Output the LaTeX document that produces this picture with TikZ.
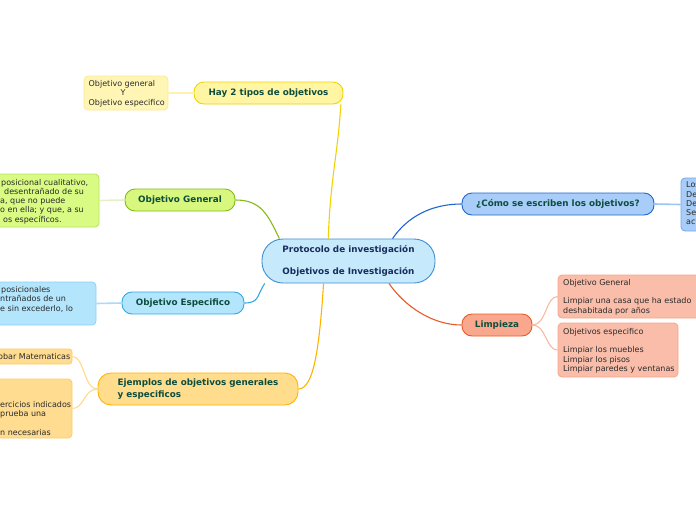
\documentclass[tikz,border=0pt]{standalone}
\usepackage{fontspec}
\setmainfont{DejaVu Sans}
\definecolor{cfill}{HTML}{C6EAFC}
\definecolor{cborder}{HTML}{3F8FD2}
\definecolor{ctxt}{HTML}{1A2B5E}
\definecolor{btxt}{HTML}{0E4D3E}
\definecolor{ltxt}{HTML}{2A2A2A}
\definecolor{yfill}{HTML}{FFF5A3}
\definecolor{yborder}{HTML}{F2D200}
\definecolor{ylfill}{HTML}{FFF6B5}
\definecolor{ylborder}{HTML}{FDEA90}
\definecolor{ysub}{HTML}{FFF2B0}
\definecolor{gfill}{HTML}{D7F77E}
\definecolor{gborder}{HTML}{86B91A}
\definecolor{glfill}{HTML}{D9FB83}
\definecolor{glborder}{HTML}{B8E060}
\definecolor{gsub}{HTML}{E4F0C8}
\definecolor{bfill}{HTML}{B3E5FC}
\definecolor{bborder}{HTML}{35A8E0}
\definecolor{blborder}{HTML}{8ED0F4}
\definecolor{bsub}{HTML}{A8DCF8}
\definecolor{ofill}{HTML}{FFDD8C}
\definecolor{oborder}{HTML}{FFB300}
\definecolor{olfill}{HTML}{FFDC90}
\definecolor{olborder}{HTML}{FFCB62}
\definecolor{osub}{HTML}{FFDA8C}
\definecolor{dfill}{HTML}{A8CDF8}
\definecolor{dborder}{HTML}{1F66CC}
\definecolor{dlborder}{HTML}{74A8EE}
\definecolor{dsub}{HTML}{9AC4F2}
\definecolor{rfill}{HTML}{F9A88E}
\definecolor{rborder}{HTML}{E85A27}
\definecolor{rlfill}{HTML}{F9BDA9}
\definecolor{rlborder}{HTML}{F7A68A}
\definecolor{rsub}{HTML}{F9B8A0}
\begin{document}
\begin{tikzpicture}[x=1pt,y=-1pt,
  every node/.style={inner sep=0pt},
  branch/.style={draw, rounded corners=10pt, line width=0.9pt, font=\bfseries\fontsize{8.8}{11}\selectfont, text=btxt, align=center, minimum height=22pt},
  leaf/.style={draw, rounded corners=4pt, line width=0.8pt},
  leaftxt/.style={font=\fontsize{8}{9.3}\selectfont, text=ltxt, align=left, anchor=west},
  conn/.style={line width=1.1pt},
  subconn/.style={line width=1.6pt}]
\useasboundingbox (0,0) rectangle (696,520);
\clip (0,0) rectangle (696,520);

% central
\node[draw=cborder, fill=cfill, line width=0.9pt, rounded corners=21pt, minimum width=173pt, minimum height=44pt, font=\bfseries\fontsize{8.8}{11}\selectfont, text=ctxt, align=left] (c) at (348.5,261) {Protocolo de investigación\\[11pt]Objetivos de Investigación};

% branches
\node[branch, fill=yfill, draw=yborder, minimum width=149pt] (hay) at (268.5,93) {Hay 2 tipos de objetivos};
\node[branch, fill=gfill, draw=gborder, minimum width=110pt] (og) at (180,200) {Objetivo General};
\node[branch, fill=bfill, draw=bborder, minimum width=122pt] (oe) at (183,303) {Objetivo Especifico};
\node[branch, fill=ofill, draw=oborder, minimum width=200pt, minimum height=32pt, rounded corners=13pt, align=left] (ej) at (198,389) {Ejemplos de objetivos generales\\[1pt]y especificos};
\node[branch, fill=dfill, draw=dborder, minimum width=192pt] (como) at (558,204) {¿Cómo se escriben los objetivos?};
\node[branch, fill=rfill, draw=rborder, minimum width=70pt] (limp) at (497,325) {Limpieza};

% leaves
\node[leaf, fill=ylfill, draw=ylborder, minimum width=84pt, minimum height=34pt] (hayl) at (126,93) {};
\node[leaftxt, font=\fontsize{8}{9.5}\selectfont] (haylt) at (88.5,93.5) {Objetivo general\\\hspace*{32pt}Y\\Objetivo especifico};

\node[leaf, fill=glfill, draw=glborder, minimum width=160pt, minimum height=53pt] (ogl) at (19,200.5) {};
\node[leaftxt] (oglt) at (0,201.4) {\hspace*{1pt}posicional cualitativo,\\\hspace*{4pt}desentrañado de su\\a, que no puede\\o en ella; y que, a su\\\hspace*{3pt}os específicos.};

\node[leaf, fill=bfill, draw=blborder, minimum width=160pt, minimum height=43pt] (oel) at (16,303.5) {};
\node[leaftxt] (oelt) at (0,299.3) {\hspace*{1pt}posicionales\\ntrañados de un\\e sin excederlo, lo};

\node[leaf, fill=olfill, draw=olborder, minimum width=152pt, minimum height=15pt, rounded corners=3pt] (ejl1) at (-4,356.5) {};
\node[leaftxt] (ejl1t) at (-2,357) {obar Matematicas};
\node[leaf, fill=olfill, draw=olborder, minimum width=152pt, minimum height=59pt] (ejl2) at (-4,408.5) {};
\node[leaftxt] (ejl2t) at (0,418.3) {ercicios indicados\\prueba una\\\mbox{}\\n necesarias};

\node[leaf, fill=dfill, draw=dlborder, minimum width=78pt, minimum height=53pt] (comol) at (720,204.5) {};
\node[leaftxt] (comolt) at (686,203.5) {Los\\De\\De\\Se\\act};

\node[leaf, fill=rlfill, draw=rlborder, minimum width=142pt, minimum height=43pt] (l1) at (629,296.5) {};
\node[leaftxt] (l1t) at (563,297) {Objetivo General\\\mbox{}\\Limpiar una casa que ha estado\\deshabitada por años};
\node[leaf, fill=rlfill, draw=rlborder, minimum width=120pt, minimum height=54pt] (l2) at (618,350) {};
\node[leaftxt] (l2t) at (563,350.5) {Objetivos especifico\\\mbox{}\\Limpiar los muebles\\Limpiar los pisos\\Limpiar paredes y ventanas};

% main connectors
\draw[conn, yborder] (c.132) .. controls +(2,-60) and +(-3,50) .. (hay.-9);
\draw[conn, gborder] (c.162) .. controls +(-12,-25) and +(25,0) .. (og.east);
\draw[conn, bborder] (c.-165) .. controls +(-8,12) and +(15,0) .. (oe.east);
\draw[conn, oborder] (c.-138) .. controls +(-4,60) and +(16,0) .. (ej.east);
\draw[conn, dborder] (c.27) .. controls +(15,-22) and +(-30,0) .. (como.west);
\draw[conn, rborder] (c.-29) .. controls +(15,22) and +(-30,0) .. (limp.west);

% sub connectors
\draw[subconn, ysub] (hayl.east) -- (hay.west);
\draw[subconn, gsub] (ogl.east) -- (og.west);
\draw[subconn, bsub] (oel.east) -- (oe.west);
\draw[conn, osub] (ej.west) .. controls +(-14,0) and +(12,0) .. (ejl1.east);
\draw[conn, osub] (ej.west) .. controls +(-14,0) and +(12,0) .. (ejl2.east);
\draw[subconn, dsub] (como.east) -- (comol.west);
\draw[conn, rsub] (limp.east) .. controls +(14,0) and +(-12,0) .. (l1.west);
\draw[conn, rsub] (limp.east) .. controls +(14,0) and +(-12,0) .. (l2.west);
\end{tikzpicture}
\end{document}
